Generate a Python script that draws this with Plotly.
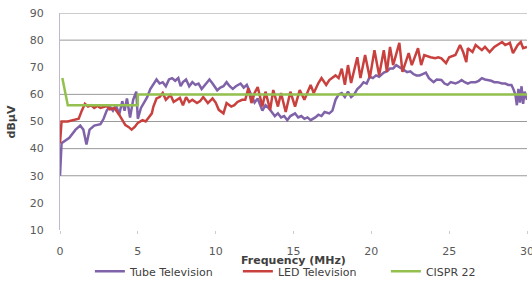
import plotly.graph_objects as go

# ---- data ----
tube_freq = [0, 0.1, 0.6, 1.0, 1.3, 1.5, 1.7, 1.9, 2.2, 2.6, 2.8, 3.0, 3.2, 3.4, 3.6, 3.8, 4.0, 4.15, 4.3, 4.5,
             4.7, 4.9, 5.0, 5.2, 5.4, 5.6, 5.8, 6.0, 6.2, 6.4, 6.6, 6.8, 7.0, 7.2, 7.4, 7.6, 7.75, 7.9, 8.1, 8.3,
             8.5, 8.7, 8.9, 9.1, 9.3, 9.6, 9.8, 10.1, 10.3, 10.5, 10.7, 10.9, 11.1, 11.3, 11.6, 11.8, 12.0, 12.2,
             12.5, 12.7, 13.0, 13.2, 13.4, 13.6, 13.8, 14.0, 14.2, 14.4, 14.6, 14.8, 15.1, 15.3, 15.5, 15.7, 15.9,
             16.1, 16.4, 16.6, 16.8, 17.0, 17.3, 17.5, 17.7, 17.9, 18.1, 18.3, 18.5, 18.7, 18.9, 19.1, 19.3, 19.5,
             19.7, 19.9, 20.1, 20.3, 20.5, 20.8, 21.0, 21.2, 21.4, 21.6, 21.9, 22.1, 22.3, 22.5, 22.7, 22.9, 23.1,
             23.3, 23.5, 23.7, 24.0, 24.2, 24.5, 24.7, 24.9, 25.1, 25.4, 25.6, 25.8, 26.0, 26.2, 26.4, 26.7, 26.9,
             27.1, 27.3, 27.5, 27.7, 27.9, 28.1, 28.4, 28.6, 28.8, 29.0, 29.1, 29.25, 29.35, 29.45, 29.55, 29.65,
             29.75, 29.85, 30.0]
tube_dbuv = [30, 42, 44, 47, 48.5, 47, 41.5, 47, 48.5, 49, 51, 54, 55.5, 54, 56, 52.5, 57.5, 54, 58.5, 51.5,
             58, 61, 51, 55, 57, 59, 62, 64, 65.5, 64, 64.5, 63, 65.5, 66, 65, 66, 63, 64.5, 65.5, 63,
             64.5, 63.5, 64, 62, 63.5, 65.5, 64, 61.5, 62.5, 63, 64.5, 63, 62, 63, 64, 62.5, 63.5, 61,
             57, 58.5, 54, 56, 55, 53.5, 52, 53, 51.5, 52, 50.5, 52, 53, 51.5, 52, 51, 51.5,
             50.5, 51.5, 52.5, 52, 53.5, 53, 54, 58, 60, 60.5, 59, 61, 59, 60, 62, 63, 64.5,
             64, 66.5, 66, 67, 66.5, 68, 68.5, 69.5, 69.5, 70.8, 69.7, 69, 68.2, 68.5, 67.5, 67, 67,
             67.5, 68, 66, 64.5, 65.5, 65.3, 64, 63.5, 64.5, 64, 64.5, 65.3, 64.5, 64, 64.5, 64.5, 65,
             66, 65.5, 65.3, 65, 64.5, 64.5, 64, 64, 63.5, 63.5, 62.3, 60, 56, 62, 57, 63,
             56.5, 61, 58]

led_freq = [0, 0.1, 0.5, 0.9, 1.2, 1.4, 1.6, 1.8, 2.0, 2.2, 2.4, 2.6, 2.8, 3.0, 3.2, 3.5, 3.8, 4.0, 4.2, 4.4,
            4.6, 4.8, 5.0, 5.3, 5.5, 5.7, 5.9, 6.0, 6.2, 6.4, 6.6, 6.8, 7.1, 7.3, 7.5, 7.7, 7.9, 8.1, 8.3, 8.5,
            8.8, 9.0, 9.2, 9.5, 9.8, 10.0, 10.2, 10.5, 10.7, 11.0, 11.2, 11.4, 11.7, 11.9, 12.1, 12.3, 12.5,
            12.7, 13.0, 13.2, 13.5, 13.7, 14.0, 14.2, 14.5, 14.8, 15.1, 15.4, 15.7, 16.1, 16.3, 16.6, 16.8,
            17.1, 17.3, 17.7, 17.9, 18.1, 18.3, 18.5, 18.7, 19.1, 19.3, 19.6, 19.9, 20.2, 20.5, 20.8, 21.0,
            21.2, 21.4, 21.8, 22.0, 22.4, 22.6, 23.0, 23.2, 23.4, 23.8, 24.1, 24.3, 24.5, 24.8, 25.0, 25.4,
            25.7, 25.9, 26.1, 26.2, 26.5, 26.7, 27.1, 27.3, 27.6, 27.9, 28.4, 28.6, 28.9, 29.1, 29.4, 29.6,
            29.75, 30.0]
led_dbuv = [42, 50, 50, 50.5, 51, 54, 56.5, 55.5, 56, 55, 55.7, 55, 55.5, 55.7, 54.5, 55, 52.5, 50.5, 48.7, 48,
            47, 48, 49.5, 50.5, 50, 51.5, 53, 55.5, 58.5, 59, 60.5, 58, 59.8, 57.2, 58, 58.7, 56, 59, 57.2, 58,
            56.8, 57.5, 59, 56.8, 58.5, 57, 54.3, 53, 56.8, 55.5, 56, 57.2, 58, 58, 62.3, 56.8, 60.5,
            62.7, 55.5, 61, 54.3, 61.6, 55.5, 60.5, 53.5, 61, 55.5, 61.6, 58, 63.5, 60.5, 64.2, 66,
            63.5, 65.3, 67, 66, 69.5, 63.5, 70.8, 64.2, 73.7, 66, 74.5, 66, 76.3, 67, 76.3, 68.3,
            77.5, 70.8, 79, 68.3, 75.2, 70.8, 77, 70.8, 74.5, 73.7, 73.3, 73.7, 73.3, 71.5, 73.7, 74.5,
            78.2, 75.6, 71.9, 77, 75.6, 78.2, 76.3, 77.5, 75.6, 77.5, 79.3, 78.2, 79, 75.2, 78.2, 79.3,
            77, 77.5]

cispr_freq = [0.15, 0.5, 5, 5, 30]
cispr_dbuv = [66, 56, 56, 60, 60]

x_ticks = [0, 5, 10, 15, 20, 25, 30]
y_ticks = [10, 20, 30, 40, 50, 60, 70, 80, 90]
grid_levels = [30, 40, 50, 60, 80, 90]

FONT = "'DejaVu Sans', sans-serif"

fig = go.Figure()
fig.add_trace(go.Scatter(x=tube_freq, y=tube_dbuv, mode="lines", name="Tube Television",
                         line=dict(color="#7F62A8", width=2.5)))
fig.add_trace(go.Scatter(x=led_freq, y=led_dbuv, mode="lines", name="LED Television",
                         line=dict(color="#C9413E", width=2.5)))
fig.add_trace(go.Scatter(x=cispr_freq, y=cispr_dbuv, mode="lines", name="CISPR 22",
                         line=dict(color="#93C04E", width=2.5)))

for g in grid_levels:
    fig.add_shape(type="line", xref="paper", x0=0, x1=1, yref="y", y0=g, y1=g,
                  line=dict(color="#9a9a9a", width=1), layer="below")

fig.update_layout(
    width=532, height=282,
    margin=dict(l=60, r=5, t=13, b=52, autoexpand=False),
    paper_bgcolor="white", plot_bgcolor="white",
    font=dict(family=FONT, size=10, color="#595959"),
    showlegend=True,
    legend=dict(orientation="h", x=0.064, xanchor="left", y=-0.19, yanchor="middle",
                font=dict(size=11, color="#404040"), itemwidth=30, tracegroupgap=0,
                entrywidth=103, entrywidthmode="pixels",
                bgcolor="rgba(0,0,0,0)"),
    xaxis=dict(range=[0, 30], tickvals=x_ticks, showgrid=False, zeroline=False,
               showline=False, ticks="outside", ticklen=3, tickcolor="#cccccc",
               ticklabelstandoff=8, ticklabeloverflow="allow",
               tickfont=dict(size=11, color="#595959")),
    yaxis=dict(range=[10, 90], tickvals=y_ticks, showgrid=False, zeroline=False,
               showline=True, linecolor="#c0b8cc", linewidth=1, ticks="", ticklabelstandoff=13,
               ticklabeloverflow="allow",
               tickfont=dict(size=11, color="#595959")),
    annotations=[
        dict(text="<b>Frequency (MHz)</b>", xref="paper", yref="paper", x=0.5, y=-0.142,
             xanchor="center", yanchor="middle", showarrow=False,
             font=dict(size=11, color="#404040")),
        dict(text="<b>dBμV</b>", xref="paper", yref="paper", x=-0.103, y=0.5,
             xanchor="center", yanchor="middle", showarrow=False, textangle=-90,
             font=dict(size=11, color="#404040")),
    ],
)

fig.write_html("out.html", config={"displayModeBar": False},
               post_script="document.body.style.margin='0';")
